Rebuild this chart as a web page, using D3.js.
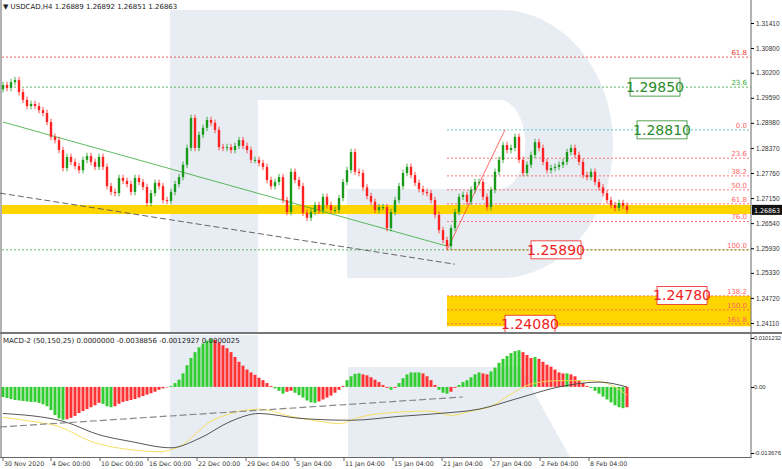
<!DOCTYPE html>
<html>
<head>
<meta charset="utf-8">
<script src="https://cdn.jsdelivr.net/npm/d3@7"></script>
<style>
  body { margin: 0; background: #fff; }
  svg { display: block; font-family: Tahoma, "DejaVu Sans", sans-serif; }
</style>
</head>
<body>
<svg id="chart" width="782" height="469"></svg>
<script>
// closes (H4, each candle ~2 bars)
const closes = [
  1.2990,1.2983,1.2997,1.3002,1.2973,1.2954,1.2939,1.2944,1.2939,1.2929,
  1.2922,1.2900,1.2864,1.2856,1.2832,1.2788,1.2815,1.2803,1.2793,1.2783,
  1.2808,1.2817,1.2803,1.2791,1.2815,1.2791,1.2744,1.2730,1.2727,1.2764,
  1.2757,1.2749,1.2730,1.2764,1.2754,1.2742,1.2703,1.2727,1.2752,1.2744,
  1.2710,1.2708,1.2730,1.2749,1.2766,1.2796,1.2837,1.2910,1.2837,1.2869,
  1.2886,1.2905,1.2898,1.2881,1.2839,1.2837,1.2839,1.2832,1.2842,1.2856,
  1.2842,1.2832,1.2808,1.2808,1.2800,1.2791,1.2759,1.2744,1.2754,1.2766,
  1.2710,1.2681,1.2779,1.2759,1.2744,1.2679,1.2667,1.2681,1.2698,1.2685,
  1.2718,1.2698,1.2686,1.2686,1.2715,1.2754,1.2783,1.2827,1.2779,1.2776,
  1.2741,1.2720,1.2706,1.2686,1.2693,1.2693,1.2642,1.2681,1.2710,1.2744,
  1.2776,1.2791,1.2771,1.2752,1.2737,1.2730,1.2727,1.2710,1.2674,1.2637,
  1.2613,1.2598,1.2642,1.2681,1.2718,1.2723,1.2706,1.2735,1.2754,1.2754,
  1.2718,1.2693,1.2735,1.2779,1.2808,1.2844,1.2832,1.2837,1.2864,1.2808,
  1.2776,1.2796,1.2820,1.2851,1.2837,1.2803,1.2783,1.2788,1.2791,1.2796,
  1.2803,1.2827,1.2837,1.2820,1.2803,1.2771,1.2766,1.2779,1.2754,1.2741,
  1.2727,1.2710,1.2698,1.2691,1.2703,1.2696,1.2686
];
const firstOpen = 1.2980;

// MACD histogram, units of 1e-4
const hist = [
  -21,-23,-25,-27,-28,-29,-30,-31,-31,-33,-36,-40,-48,-58,-65,-68,-67,-64,-60,-54,
  -50,-46,-42,-38,-33,-35,-40,-42,-40,-35,-31,-29,-27,-25,-22,-19,-16,-13,-10,-6,
  -3,-1,2,8,15,28,45,60,72,82,90,96,99,97,92,86,80,72,62,52,
  44,36,30,25,19,14,8,2,-3,-8,-14,-10,-8,-12,-17,-22,-28,-32,-33,-30,
  -26,-22,-18,-12,-6,2,14,22,27,28,26,24,20,15,10,4,-2,-6,-2,8,
  18,26,30,30,30,28,22,14,4,-6,-12,-14,-10,-2,4,10,14,20,26,30,
  28,26,32,40,50,58,64,70,74,76,72,66,60,62,58,52,46,42,36,30,
  28,28,26,22,14,8,2,-2,-8,-14,-20,-26,-32,-38,-42,-44,-42
];
// [candle index, value 1e-4]
const mainLine = [[0,-55],[15,-71],[24,-99],[32,-113],[42,-126],[49,-107],[57,-71],[64,-55],[74,-65],[87,-69],[99,-61],[109,-55],[119,-46],[129,-23],[139,0],[149,10],[156,0]];
const signalLine = [[0,-63],[7,-71],[14,-82],[22,-113],[32,-130],[39,-134],[44,-124],[52,-71],[57,-55],[64,-46],[72,-61],[79,-71],[84,-76],[89,-63],[99,-52],[107,-50],[112,-59],[117,-50],[122,-40],[127,-15],[132,6],[139,13],[147,13],[152,4],[156,-17]];

const priceTicks = [1.31410,1.30800,1.30200,1.29590,1.28980,1.28370,1.27760,1.27150,1.26540,1.25930,1.25330,1.24720,1.24110];
const timeLabels = ["30 Nov 2020","4 Dec 00:00","10 Dec 00:00","16 Dec 00:00","22 Dec 00:00","29 Dec 04:00","5 Jan 04:00","11 Jan 04:00","15 Jan 04:00","21 Jan 04:00","27 Jan 04:00","2 Feb 04:00","8 Feb 04:00"];
const timeIdx = [0,12,24.25,36.25,48.5,60.75,73,85.25,97.5,109.75,122,134.25,146.5];

const leftFib = [["61.8",1.3058,"#e33"],["23.6",1.2985,"#3a3"]];
const rightFib = [["0.0",1.2881],["23.6",1.2812],["38.2",1.2769],["50.0",1.2735],["61.8",1.2701],["76.0",1.2658],["100.0",1.2589],["138.2",1.2477],["150.0",1.2443],["161.8",1.2409]];
const boxes = [["1.29850",1.2985,655,"#2a8a2a"],["1.28810",1.2881,662,"#2a8a2a"],["1.25890",1.2589,556,"#e22"],["1.24780",1.2478,682,"#e22"],["1.24080",1.2408,530,"#e22"]];

const svg = d3.select("#chart");
const x = d3.scaleLinear().domain([0, 156]).range([3, 627]);
const y = d3.scaleLinear().domain([1.2411, 1.3141]).range([323, 23]);
const ym = d3.scaleLinear().domain([-0.013676, 0.0101232]).range([453, 338]);

// watermark
const wm = "#e8edf4";
svg.append("path").attr("fill", wm)
  .attr("d", "M170,10 H500 A113,134 0 0 1 500,278 H347 V189 H500 A25,44 0 0 0 500,100 H258 V332 H170 Z");
svg.append("rect").attr("x", 170).attr("y", 335).attr("width", 88).attr("height", 122).attr("fill", wm);
svg.append("path").attr("fill", wm).attr("d", "M348,367 H520 L570,457 H348 Z");

// left fib lines
leftFib.forEach(([t, v, c]) => {
  svg.append("line").attr("x1", 2).attr("x2", 751).attr("y1", y(v)).attr("y2", y(v))
    .attr("stroke", c).attr("stroke-dasharray", "2,2").attr("stroke-width", 0.8);
  svg.append("text").attr("x", 747).attr("y", y(v) - 2).attr("text-anchor", "end")
    .attr("font-size", 7).attr("fill", c).text(t);
});
svg.append("line").attr("x1", 2).attr("x2", 751).attr("y1", y(1.2589)).attr("y2", y(1.2589))
  .attr("stroke", "#3a3").attr("stroke-dasharray", "2,2").attr("stroke-width", 0.8);

// target zone
svg.append("rect").attr("x", 447).attr("y", y(1.2477)).attr("width", 304)
  .attr("height", y(1.2403) - y(1.2477)).attr("fill", "#ffd500");

// right fib
rightFib.forEach(([t, v]) => {
  const c = t === "0.0" ? "#4bb" : (t === "100.0" ? "#e60" : "#f55");
  svg.append("line").attr("x1", 447).attr("x2", 751).attr("y1", y(v)).attr("y2", y(v))
    .attr("stroke", c).attr("stroke-dasharray", "2,2").attr("stroke-width", 0.8);
  svg.append("text").attr("x", 747).attr("y", y(v) - 2).attr("text-anchor", "end")
    .attr("font-size", 7).attr("fill", "#f66").text(t);
});

// yellow support band
svg.append("rect").attr("x", 2).attr("y", 205).attr("width", 749).attr("height", 9).attr("fill", "#ffd500");

// trend lines
svg.append("line").attr("x1", x(0)).attr("y1", y(1.2900)).attr("x2", x(111)).attr("y2", y(1.2598))
  .attr("stroke", "#3a3").attr("stroke-width", 0.8);
svg.append("line").attr("x1", 0).attr("y1", y(1.2727)).attr("x2", x(113)).attr("y2", y(1.2554))
  .attr("stroke", "#555").attr("stroke-dasharray", "6,3").attr("stroke-width", 0.9);
svg.append("line").attr("x1", x(111)).attr("y1", y(1.2589)).attr("x2", x(125.5)).attr("y2", y(1.2881))
  .attr("stroke", "#f44").attr("stroke-width", 0.8);

// candles
const candles = closes.map((c, i) => {
  const o = i === 0 ? firstOpen : closes[i - 1];
  return { i, o, c, h: Math.max(o, c) + 0.0008, l: Math.min(o, c) - 0.0008 };
});
const cg = svg.append("g");
cg.selectAll("line").data(candles).join("line")
  .attr("x1", d => x(d.i)).attr("x2", d => x(d.i))
  .attr("y1", d => y(d.h)).attr("y2", d => y(d.l))
  .attr("stroke", d => d.c >= d.o ? "#1a9a1a" : "#f22").attr("stroke-width", 0.8);
cg.selectAll("rect").data(candles).join("rect")
  .attr("x", d => x(d.i) - 1.2).attr("width", 2.4)
  .attr("y", d => y(Math.max(d.o, d.c)))
  .attr("height", d => Math.max(1, Math.abs(y(d.o) - y(d.c))))
  .attr("fill", d => d.c >= d.o ? "#1a9a1a" : "#f22");

// label boxes
boxes.forEach(([t, v, cx, c]) => {
  const g = svg.append("g");
  g.append("rect").attr("x", cx - 25).attr("y", y(v) - 9).attr("width", 50).attr("height", 18)
    .attr("fill", "#fff").attr("stroke", c).attr("stroke-width", 0.8);
  g.append("text").attr("x", cx).attr("y", y(v) + 5).attr("text-anchor", "middle")
    .attr("font-size", 14).attr("fill", c).text(t);
});

// MACD
const hg = svg.append("g");
hg.selectAll("rect").data(hist).join("rect")
  .attr("x", (d, i) => x(i) - 1.5).attr("width", 3)
  .attr("y", d => Math.min(ym(d / 1e4), ym(0)))
  .attr("height", d => Math.abs(ym(d / 1e4) - ym(0)))
  .attr("fill", (d, i) => (i > 0 && Math.abs(d) < Math.abs(hist[i - 1])) ? "#f33" : "#3c3");
const ln = d3.line().x(d => x(d[0])).y(d => ym(d[1] / 1e4)).curve(d3.curveMonotoneX);
svg.append("path").attr("d", ln(signalLine)).attr("fill", "none").attr("stroke", "#f5dd55").attr("stroke-width", 0.9);
svg.append("path").attr("d", ln(mainLine)).attr("fill", "none").attr("stroke", "#444").attr("stroke-width", 0.9);
svg.append("line").attr("x1", 0).attr("y1", 427).attr("x2", 463).attr("y2", 397)
  .attr("stroke", "#888").attr("stroke-dasharray", "7,3").attr("stroke-width", 1.2);

// frames and axes
svg.append("line").attr("x1", 751).attr("x2", 751).attr("y1", 0).attr("y2", 458).attr("stroke", "#666");
svg.append("line").attr("x1", 1).attr("x2", 1).attr("y1", 0).attr("y2", 458).attr("stroke", "#666");
svg.append("rect").attr("x", 0).attr("y", 332).attr("width", 782).attr("height", 2).attr("fill", "#777");
svg.append("line").attr("x1", 0).attr("x2", 751).attr("y1", 457.5).attr("y2", 457.5).attr("stroke", "#666");

const ay = d3.axisRight(y).tickValues(priceTicks).tickSize(3).tickFormat(d3.format(".5f"));
svg.append("g").attr("transform", "translate(751,0)").call(ay)
  .call(g => g.select(".domain").remove())
  .call(g => g.selectAll("text").attr("font-size", 6.5).attr("fill", "#333").attr("x", 5));
const aym = d3.axisRight(ym).tickValues([0.0101232, 0, -0.013676]).tickSize(3)
  .tickFormat(d => d === 0 ? "0.00" : String(d));
svg.append("g").attr("transform", "translate(751,0)").call(aym)
  .call(g => g.select(".domain").remove())
  .call(g => g.selectAll("text").attr("font-size", 6).attr("fill", "#333").attr("x", 3)
    .attr("textLength", d => d === 0 ? null : 27).attr("lengthAdjust", "spacingAndGlyphs"));

// current price tag
svg.append("rect").attr("x", 752).attr("y", y(1.26863) - 5).attr("width", 30).attr("height", 10).attr("fill", "#111");
svg.append("text").attr("x", 754).attr("y", y(1.26863) + 3).attr("font-size", 6.5).attr("fill", "#fff")
  .attr("textLength", 26).attr("lengthAdjust", "spacingAndGlyphs").text("1.26863");

// time axis
const ta = svg.append("g");
timeLabels.forEach((t, k) => {
  const tx = x(timeIdx[k]);
  ta.append("line").attr("x1", tx).attr("x2", tx).attr("y1", 458).attr("y2", 461).attr("stroke", "#666");
  ta.append("text").attr("x", tx + 1).attr("y", 466).attr("font-size", 6.3).attr("fill", "#333").text(t);
});

svg.append("text").attr("x", 3).attr("y", 9).attr("font-size", 7).attr("fill", "#222")
  .text("▼ USDCAD,H4  1.26889 1.26892 1.26851 1.26863");
svg.append("text").attr("x", 3).attr("y", 343).attr("font-size", 7).attr("fill", "#222")
  .text("MACD-2 (50,150,25) 0.0000000 -0.0038856 -0.0012927 0.0000025");
</script>
</body>
</html>
